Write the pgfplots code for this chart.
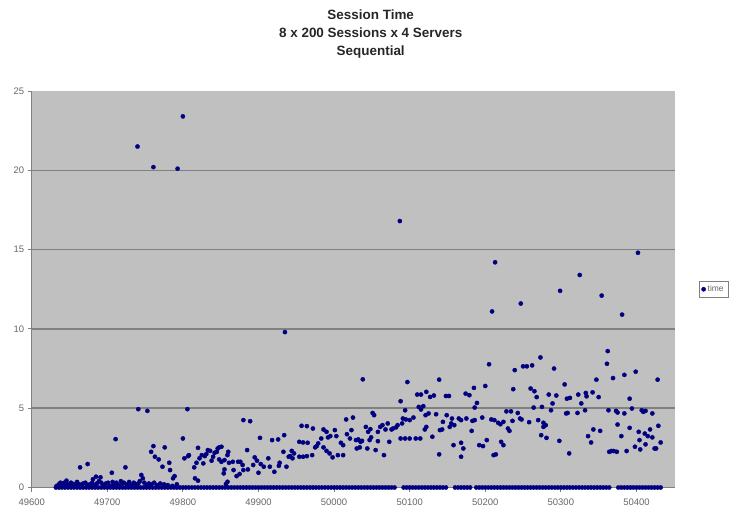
\documentclass[border=0pt]{standalone}
\usepackage{fontspec}
\setmainfont{Liberation Sans}
\usepackage{pgfplots}
\pgfplotsset{compat=1.18}
\definecolor{navy}{RGB}{0,0,128}
\definecolor{plotgray}{RGB}{192,192,192}
\definecolor{gridgray}{RGB}{128,128,128}
\begin{document}
\begin{tikzpicture}
\useasboundingbox (0,0) rectangle (732bp,514bp);
\begin{axis}[
  at={(31.7bp,26.5bp)}, anchor=south west,
  scale only axis, width=643.3bp, height=396.5bp,
  xmin=49600, xmax=50451, ymin=0, ymax=25,
  xtick={49600,49700,...,50400}, ytick={0,5,...,25},
  scaled x ticks=false,
  extra y ticks={5,10,15,20}, extra y tick labels={},
  extra y tick style={grid=major, major tick length=0pt},
  major grid style={gridgray, line width=1.5bp},
  /pgf/number format/assume math mode=true,
  xticklabel style={/pgf/number format/fixed, /pgf/number format/precision=0, /pgf/number format/1000 sep={}, yshift=-4bp},
  axis x line*=bottom, axis y line*=left,
  axis line style={gridgray, line width=1bp},
  tick align=outside, major tick length=4bp,
  tick style={gridgray, line width=0.8bp},
  axis background/.style={fill=plotgray},
  ticklabel style={font=\fontsize{9.5}{10}\selectfont, text=black!60},
  clip=false,
  title={Session Time\\8 x 200 Sessions x 4 Servers\\Sequential},
  title style={font=\bfseries\fontsize{13.5}{18}\selectfont, align=center, at={(0.527,1.129)}, anchor=center, text=black!85},
  legend style={at={(1.037,0.5)}, anchor=west, draw=gridgray, fill=white, font=\fontsize{8.5}{10}\selectfont, text=black!60, inner sep=2.5bp},
  legend cell align=left,
]
\addplot[only marks, mark=*, mark size=2.1bp, mark options={fill=navy, draw=navy}] coordinates {
(49740,21.5)(49761,20.2)(49793,20.1)(49800,23.4)(49935,9.8)(50087,16.8)(50213,14.2)(50209,11.1)(50247,11.6)(50299,12.4)(50325,13.4)(50354,12.1)(50381,10.9)(50402,14.8)(50273,8.2)(50362,8.6)
(50361,7.8)(50239,7.4)(50250,7.64)(50255,7.64)(50262,7.7)(50291,7.5)(50305,6.5)(50384,7.1)(50399,7.3)(50369,6.9)(50347,6.8)(50428,6.8)(50237,6.2)(50260,6.24)(50265,6.07)(50268,5.7)(50284,5.86)(50294,5.8)(50308,5.6)(50312,5.65)(50323,5.86)(50333,5.96)(50334,5.75)(50342,6.0)(50350,5.7)(50391,5.6)(50327,5.3)(50289,5.3)(50275,5.08)(50264,5.04)(50228,4.8)(50234,4.8)(50243,4.7)(50287,4.87)(50307,4.67)(50309,4.7)(50322,4.7)(50332,4.87)(50363,4.87)(50373,4.83)(50375,4.73)(50384,4.67)(50394,4.98)(50407,4.87)(50409,4.77)(50412,4.83)(50421,4.67)(50236,4.2)(50246,4.35)(50248,4.29)(50258,4.12)(50270,4.25)(50277,4.08)(50280,3.93)(50277,3.82)(50232,3.57)(50274,3.3)(50281,3.13)(50298,2.94)(50311,2.15)(50336,3.24)(50343,3.66)(50340,2.84)(50352,3.57)(50375,3.97)(50380,3.24)(50391,3.76)(50403,3.51)(50404,2.99)(50398,2.57)(50405,2.4)(50364,2.25)(50367,2.3)(50370,2.3)(50374,2.25)(50387,2.3)(50411,3.4)(50415,3.24)(50418,3.66)(50421,3.16)(50412,2.72)(50429,3.89)(50432,2.84)(50424,2.46)(50426,2.46)
(50038,6.82)(50097,6.65)(50139,6.8)(50205,7.77)(50200,6.4)(50185,6.28)(50174,5.92)(50179,5.82)(50148,5.77)(50152,5.77)(50127,5.71)(50132,5.8)(50110,5.86)(50115,5.86)(50122,6.03)(50088,5.44)(50189,5.33)(50186,5.04)(50112,5.08)(50115,4.92)(50118,5.13)(50094,4.87)(50051,4.7)(50053,4.56)(50025,4.41)(50016,4.29)(50121,4.56)(50125,4.67)(50135,4.62)(50091,4.35)(50095,4.29)(50100,4.25)(50105,4.41)(50149,4.56)(50156,4.35)(50165,4.35)(50168,4.25)(50155,4.04)(50159,3.93)(50153,3.82)(50144,4.14)(50143,3.66)(50175,4.35)(50183,4.2)(50186,4.25)(50196,4.41)(50208,4.29)(50212,4.25)(50217,4.08)(50220,3.99)(50224,4.14)(50230,3.72)
(50042,3.82)(50048,3.68)(50045,3.51)(50049,3.16)(50047,2.99)(50061,3.82)(50064,3.93)(50058,3.51)(50068,3.66)(50071,4.04)(50076,3.66)(50078,3.72)(50082,3.79)(50084,3.93)(50090,4.04)
(50017,3.36)(50021,3.09)(50023,3.62)(50029,2.99)(50032,3.03)(50035,2.88)(50037,2.94)(50030,2.46)(50034,2.53)(50044,2.46)(50055,2.36)(50058,2.92)(50066,2.04)(50073,2.88)(50088,3.09)(50094,3.09)(50100,3.09)(50108,3.09)(50114,3.09)(50120,3.66)(50122,3.82)(50130,3.2)(50140,3.62)(50139,2.09)(50158,2.67)(50168,2.82)(50171,2.46)(50168,1.94)(50182,3.57)(50192,2.67)(50197,2.61)(50202,2.99)(50211,2.04)(50214,2.09)(50221,2.88)(50224,2.67)
(49880,4.25)(49889,4.18)(49957,3.89)(49964,3.87)(49972,3.72)(49902,3.13)(49918,2.99)(49926,3.03)(49934,3.3)(49954,2.88)(49959,2.84)(49965,2.82)(49986,3.66)(49983,3.09)(49979,2.78)(49977,2.61)(49975,2.53)(49990,3.51)(49995,3.24)(49992,3.16)(50001,3.62)(50003,3.24)(50009,2.82)(50012,2.67)(49986,2.53)(49990,2.31)(49994,2.15)(49998,1.9)(50005,2.04)(50012,2.04)(49954,1.94)(49959,1.94)(49964,1.98)(49971,2.04)(49947,2.15)(49944,2.31)(49942,1.98)(49945,1.84)(49933,2.25)(49940,1.94)(49928,1.56)(49927,1.37)(49937,1.31)(49921,0.99)(49913,1.84)(49915,1.31)(49907,1.31)(49903,1.48)(49900,0.93)(49895,1.9)(49898,1.69)(49893,1.42)(49885,2.36)(49886,1.14)(49876,1.62)(49879,1.42)(49880,1.1)(49875,0.85)(49873,1.62)(49871,0.72)(49867,1.1)(49866,1.62)(49861,1.56)(49859,2.04)(49860,2.25)(49855,1.73)(49851,1.62)(49848,1.77)(49854,0.89)(49855,1.14)(49859,0.36)(49857,0.22)(49846,2.46)(49845,2.25)(49848,2.53)(49851,2.57)(49842,2.19)(49840,1.94)(49836,2.31)(49838,1.69)(49833,2.36)(49831,2.11)(49829,1.98)(49827,1.52)(49825,2.04)(49820,2.5)(49822,1.84)(49815,1.27)(49818,1.56)(49816,0.58)(49820,0.43)(49808,2.04)
(49741,4.94)(49753,4.83)(49806,4.94)(49711,3.05)(49800,3.09)(49761,2.61)(49776,2.53)(49758,2.25)(49763,1.94)(49768,1.77)(49773,1.31)(49782,1.56)(49783,1.1)(49787,0.58)(49789,0.72)(49802,1.84)(49807,1.98)(49664,1.27)(49674,1.48)(49724,1.27)(49706,0.93)(49685,0.68)(49691,0.64)(49681,0.52)(49646,0.43)(49745,0.79)(49747,0.58)
(49633,0.1)(49636,0.2)(49638,0.3)(49641,0.15)(49643,0.3)(49645,0.25)(49648,0.2)(49650,0.1)(49652,0.3)(49655,0.22)(49658,0.15)(49660,0.35)(49663,0.2)(49666,0.1)(49668,0.25)(49671,0.3)(49674,0.15)(49677,0.2)(49680,0.3)(49683,0.1)(49686,0.25)(49689,0.4)(49692,0.3)(49695,0.15)(49698,0.25)(49701,0.3)(49704,0.1)(49707,0.35)(49709,0.2)(49712,0.3)(49715,0.15)(49718,0.4)(49720,0.25)(49722,0.3)(49726,0.2)(49729,0.35)(49732,0.15)(49735,0.3)(49738,0.2)(49741,0.25)(49743,0.4)(49749,0.3)(49752,0.15)(49755,0.25)(49758,0.2)(49762,0.3)(49766,0.15)(49770,0.25)(49775,0.2)(49780,0.15)(49786,0.1)(49792,0.2)
(49632,0)(49636,0)(49640,0)(49644,0)(49648,0)(49652,0)(49656,0)(49660,0)(49664,0)(49668,0)(49672,0)(49676,0)(49680,0)(49684,0)(49688,0)(49692,0)(49696,0)
(49700,0)(49704,0)(49708,0)(49712,0)(49716,0)(49720,0)(49724,0)(49728,0)(49732,0)(49736,0)(49740,0)(49744,0)(49748,0)(49752,0)(49756,0)(49760,0)(49764,0)(49768,0)(49772,0)(49776,0)(49780,0)(49784,0)(49788,0)(49792,0)(49796,0)
(49800,0)(49804,0)(49808,0)(49812,0)(49816,0)(49820,0)(49824,0)(49828,0)(49832,0)(49836,0)(49840,0)(49844,0)(49848,0)(49852,0)(49856,0)(49860,0)(49864,0)(49868,0)(49872,0)(49876,0)(49880,0)(49884,0)(49888,0)(49892,0)(49896,0)
(49900,0)(49904,0)(49908,0)(49912,0)(49916,0)(49920,0)(49924,0)(49928,0)(49932,0)(49936,0)(49940,0)(49944,0)(49948,0)(49952,0)(49956,0)(49960,0)(49964,0)(49968,0)(49972,0)(49976,0)(49980,0)(49984,0)(49988,0)(49992,0)(49996,0)
(50000,0)(50004,0)(50008,0)(50012,0)(50016,0)(50020,0)(50024,0)(50028,0)(50032,0)(50036,0)(50040,0)(50044,0)(50048,0)(50052,0)(50056,0)(50060,0)(50064,0)(50068,0)(50072,0)(50076,0)(50080,0)(50092,0)(50096,0)
(50100,0)(50104,0)(50108,0)(50112,0)(50116,0)(50120,0)(50124,0)(50128,0)(50132,0)(50136,0)(50140,0)(50144,0)(50148,0)(50160,0)(50164,0)(50168,0)(50172,0)(50176,0)(50180,0)(50188,0)(50192,0)(50196,0)
(50200,0)(50204,0)(50208,0)(50212,0)(50216,0)(50220,0)(50224,0)(50228,0)(50232,0)(50236,0)(50240,0)(50244,0)(50248,0)(50252,0)(50256,0)(50260,0)(50264,0)(50268,0)(50272,0)(50276,0)(50280,0)(50284,0)(50288,0)(50292,0)(50296,0)
(50300,0)(50304,0)(50308,0)(50312,0)(50316,0)(50320,0)(50324,0)(50328,0)(50332,0)(50336,0)(50340,0)(50344,0)(50348,0)(50352,0)(50356,0)(50360,0)(50364,0)(50376,0)(50380,0)(50384,0)(50388,0)(50392,0)(50396,0)
(50400,0)(50404,0)(50408,0)(50412,0)(50416,0)(50420,0)(50424,0)(50428,0)(50432,0)
};
\addlegendentry{time}
\end{axis}
\end{tikzpicture}
\end{document}
